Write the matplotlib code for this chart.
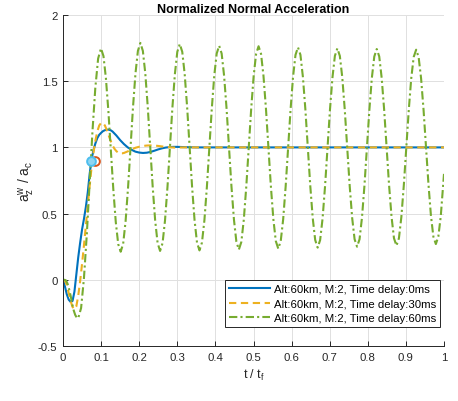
import matplotlib
matplotlib.use("Agg")
import matplotlib.pyplot as plt

plt.rcParams['font.family'] = ['Liberation Sans', 'DejaVu Sans']
plt.rcParams['mathtext.fontset'] = 'custom'
plt.rcParams['mathtext.rm'] = 'Liberation Sans'

# ---- data -------------------------------------------------------------
labels = ["Alt:60km, M:2, Time delay:0ms",
          "Alt:60km, M:2, Time delay:30ms",
          "Alt:60km, M:2, Time delay:60ms"]

# time delay 0 ms
t_0ms = [0, 0.005, 0.01, 0.015, 0.02, 0.025, 0.03, 0.035, 0.04, 0.045,
         0.05, 0.055, 0.06, 0.065, 0.07, 0.075, 0.08, 0.085, 0.09, 0.095,
         0.1, 0.105, 0.11, 0.115, 0.12, 0.125, 0.13, 0.14, 0.15, 0.16,
         0.17, 0.18, 0.19, 0.2, 0.21, 0.22, 0.23, 0.24, 0.25, 0.26,
         0.27, 0.28, 0.29, 0.3, 0.32, 0.35, 0.4, 0.5, 0.6, 0.7, 0.8, 0.9, 1.0]
a_0ms = [0, -0.05, -0.11, -0.15, -0.167, -0.16, -0.09, 0.04, 0.17, 0.28,
         0.38, 0.46, 0.55, 0.66, 0.80, 0.91, 0.98, 1.03, 1.07, 1.095,
         1.11, 1.123, 1.13, 1.134, 1.134, 1.13, 1.12, 1.09, 1.055, 1.025,
         1.0, 0.982, 0.968, 0.961, 0.958, 0.96, 0.966, 0.975, 0.985, 0.993,
         0.999, 1.002, 1.004, 1.004, 1.002, 1.0, 1.0, 1.0, 1.0, 1.0, 1.0, 1.0, 1.0]

# time delay 30 ms
t_30ms = [0, 0.005, 0.01, 0.015, 0.02, 0.025, 0.03, 0.035, 0.04, 0.045,
          0.05, 0.055, 0.06, 0.065, 0.07, 0.075, 0.08, 0.085, 0.09, 0.095,
          0.1, 0.105, 0.11, 0.115, 0.12, 0.125, 0.13, 0.135, 0.14, 0.145,
          0.15, 0.155, 0.16, 0.17, 0.18, 0.19, 0.2, 0.21, 0.22, 0.23,
          0.24, 0.25, 0.26, 0.27, 0.28, 0.29, 0.3, 0.32, 0.35, 0.4, 0.5,
          0.6, 0.7, 0.8, 0.9, 1.0]
a_30ms = [0, -0.005, -0.04, -0.10, -0.16, -0.205, -0.222, -0.2, -0.12, -0.01,
          0.12, 0.26, 0.41, 0.56, 0.71, 0.85, 0.96, 1.05, 1.12, 1.165,
          1.185, 1.185, 1.165, 1.13, 1.09, 1.05, 1.015, 0.99, 0.972, 0.96,
          0.955, 0.955, 0.958, 0.97, 0.985, 0.997, 1.005, 1.011, 1.014, 1.015,
          1.014, 1.011, 1.007, 1.004, 1.001, 0.999, 0.999, 1.0, 1.0, 1.0, 1.0,
          1.0, 1.0, 1.0, 1.0, 1.0]

# time delay 60 ms
t_60ms = [0, 0.004, 0.008, 0.012, 0.016, 0.02, 0.024, 0.028, 0.032, 0.036,
          0.040, 0.0475, 0.0549, 0.0624, 0.0698, 0.0773, 0.0848, 0.0922,
          0.0997, 0.1062, 0.1126, 0.1191, 0.1256, 0.1320, 0.1385, 0.1449,
          0.1514, 0.1579, 0.1643, 0.1708, 0.1773, 0.1837, 0.1902, 0.1966,
          0.2031, 0.2096, 0.2160, 0.2225, 0.2290, 0.2354, 0.2419, 0.2483,
          0.2548, 0.2613, 0.2677, 0.2742, 0.2807, 0.2871, 0.2936, 0.3000,
          0.3065, 0.3130, 0.3194, 0.3259, 0.3324, 0.3388, 0.3453, 0.3517,
          0.3582, 0.3647, 0.3711, 0.3776, 0.3841, 0.3905, 0.3970, 0.4034,
          0.4099, 0.4164, 0.4228, 0.4293, 0.4358, 0.4422, 0.4487, 0.4551,
          0.4616, 0.4681, 0.4745, 0.4810, 0.4875, 0.4939, 0.5004, 0.5068,
          0.5133, 0.5198, 0.5262, 0.5327, 0.5392, 0.5456, 0.5521, 0.5585,
          0.5650, 0.5715, 0.5779, 0.5844, 0.5909, 0.5973, 0.6038, 0.6102,
          0.6167, 0.6232, 0.6296, 0.6361, 0.6426, 0.6490, 0.6555, 0.6619,
          0.6684, 0.6749, 0.6813, 0.6878, 0.6943, 0.7007, 0.7072, 0.7136,
          0.7201, 0.7266, 0.7330, 0.7395, 0.7460, 0.7524, 0.7589, 0.7653,
          0.7718, 0.7783, 0.7847, 0.7912, 0.7977, 0.8041, 0.8106, 0.8170,
          0.8235, 0.8300, 0.8364, 0.8429, 0.8494, 0.8558, 0.8623, 0.8687,
          0.8752, 0.8817, 0.8881, 0.8946, 0.9011, 0.9075, 0.9140, 0.9204,
          0.9269, 0.9334, 0.9398, 0.9463, 0.9528, 0.9592, 0.9657, 0.9721,
          0.9786, 0.9851, 0.9915, 0.9980, 1.0]
a_60ms = [0, 0, -0.005, -0.03, -0.07, -0.12, -0.18, -0.23, -0.265, -0.285,
          -0.29, -0.213, 0.009, 0.339, 0.729, 1.119, 1.449, 1.671,
          1.748, 1.690, 1.523, 1.274, 0.980, 0.686, 0.437, 0.270,
          0.212, 0.272, 0.443, 0.699, 1.001, 1.302, 1.558, 1.729,
          1.789, 1.729, 1.559, 1.304, 1.004, 0.703, 0.448, 0.278,
          0.218, 0.277, 0.447, 0.700, 1.000, 1.299, 1.552, 1.722,
          1.781, 1.722, 1.553, 1.300, 1.002, 0.703, 0.450, 0.281,
          0.222, 0.281, 0.448, 0.699, 0.995, 1.291, 1.542, 1.709,
          1.768, 1.709, 1.542, 1.293, 0.998, 0.703, 0.454, 0.287,
          0.228, 0.286, 0.453, 0.702, 0.996, 1.290, 1.539, 1.706,
          1.764, 1.706, 1.540, 1.292, 1.000, 0.707, 0.459, 0.293,
          0.235, 0.293, 0.458, 0.705, 0.996, 1.287, 1.533, 1.698,
          1.756, 1.699, 1.534, 1.289, 1.000, 0.710, 0.465, 0.301,
          0.243, 0.300, 0.463, 0.707, 0.996, 1.284, 1.527, 1.691,
          1.748, 1.691, 1.529, 1.286, 0.999, 0.712, 0.469, 0.307,
          0.250, 0.306, 0.469, 0.711, 0.997, 1.282, 1.524, 1.686,
          1.743, 1.687, 1.525, 1.285, 1.000, 0.716, 0.476, 0.314,
          0.258, 0.314, 0.475, 0.717, 0.998, 1.281, 1.521, 1.682,
          1.738, 1.682, 1.523, 1.285, 1.004, 0.723, 0.485, 0.326,
          0.270, 0.326, 0.480, 0.720, 0.800]

# points where the response first reaches 0.9
mark_t = [0.083, 0.0735]
mark_a = [0.9, 0.9]

xticks = [0, 0.1, 0.2, 0.3, 0.4, 0.5, 0.6, 0.7, 0.8, 0.9, 1]
xtick_labels = ["0", "0.1", "0.2", "0.3", "0.4", "0.5", "0.6", "0.7", "0.8", "0.9", "1"]
yticks = [-0.5, 0, 0.5, 1, 1.5, 2]
ytick_labels = ["-0.5", "0", "0.5", "1", "1.5", "2"]

# ---- figure -----------------------------------------------------------
W, H = 458, 402
fig = plt.figure(figsize=(W / 100, H / 100), dpi=100)
ax = fig.add_axes([63 / W, 1 - 347 / H, 381 / W, 331 / H])

axis_c = '#262626'
c_blue, c_orange, c_green = '#0072BD', '#EDB120', '#77AC30'

ax.plot(t_0ms, a_0ms, color=c_blue, lw=1.5, label=labels[0])
ax.plot(t_30ms, a_30ms, color=c_orange, lw=1.5, dashes=(3.5, 2.2), label=labels[1])
ax.plot(t_60ms, a_60ms, color=c_green, lw=1.5, dashes=(4, 1.5, 1, 1.5), label=labels[2])

ax.plot(mark_t[0], mark_a[0], 'o', ms=6.3, mfc='none', mec='#D95319', mew=1.4)
ax.plot(mark_t[1], mark_a[1], 'o', ms=6.3, mfc='#8fd5f2', mec='#4DBEEE', mew=1.4)

ax.set_xlim(0, 1)
ax.set_ylim(-0.5, 2)
ax.set_xticks(xticks)
ax.set_xticklabels(xtick_labels)
ax.set_yticks(yticks)
ax.set_yticklabels(ytick_labels)

ax.grid(True, color='#e0e0e0', lw=0.7)
ax.set_axisbelow(True)
for s in ['top', 'right']:
    ax.spines[s].set_visible(False)
for s in ['left', 'bottom']:
    ax.spines[s].set_color(axis_c)
    ax.spines[s].set_linewidth(0.7)
ax.tick_params(direction='in', length=3.5, width=0.7, colors=axis_c,
               labelsize=8.2, pad=4)

ax.set_title("Normalized Normal Acceleration", fontsize=9, fontweight='bold',
             color='black', pad=2.5)
ax.set_xlabel(r"t / t$_\mathregular{f}$", fontsize=9, color=axis_c, labelpad=4)
ax.set_ylabel(r"a$_\mathregular{z}^\mathregular{w}$ / a$_\mathregular{c}$",
              fontsize=10, color=axis_c, labelpad=1)

leg = ax.legend(loc='lower right', bbox_to_anchor=(0.9895, 0.0565),
                borderaxespad=0, fontsize=8.2, fancybox=False, framealpha=1,
                edgecolor=axis_c, handlelength=3.6, handletextpad=0.35,
                labelspacing=0.4, borderpad=0.35)
leg.get_frame().set_linewidth(0.7)

fig.savefig("out.png", dpi=100)
